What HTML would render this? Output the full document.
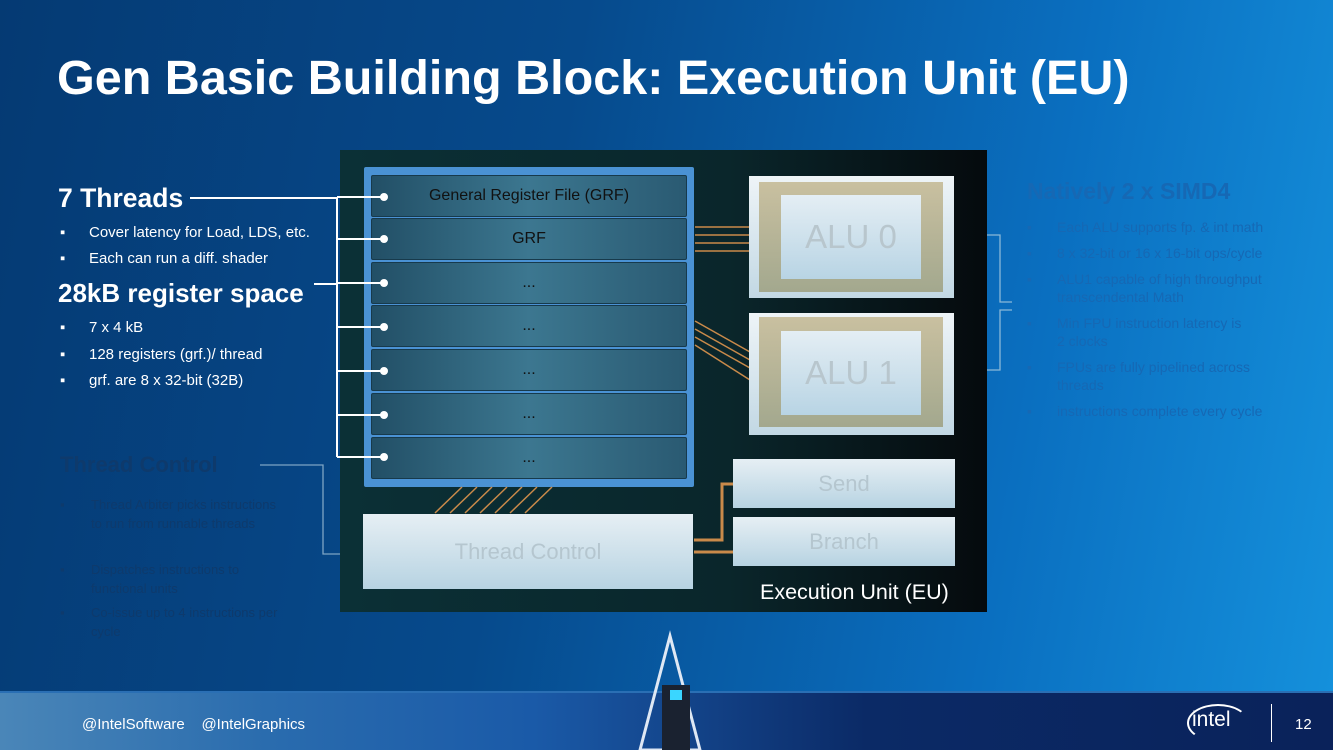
<!DOCTYPE html>
<html><head><meta charset="utf-8"><style>
*{margin:0;padding:0;box-sizing:border-box}
body{width:1333px;height:750px;overflow:hidden;position:relative;font-family:"Liberation Sans","DejaVu Sans",sans-serif;background:linear-gradient(100deg,#053a73 0%,#064a8c 40%,#0a6fc0 75%,#1591dc 100%)}
.a{position:absolute}
h1{position:absolute;left:57px;top:50px;font-size:48.5px;font-weight:bold;color:#fff;white-space:nowrap}
.w{color:#fff}
.bul{font-size:15px;color:#fff}
.fade{color:#0e3a6c}
.fadeR{color:#1668b4}
.row{position:absolute;left:371px;width:316px;height:42px;background:linear-gradient(90deg,#224f66,#3c7790 50%,#2a5a72);border:1px solid #173a4c;border-radius:2px;color:#111;text-align:center;font-size:16px;line-height:40px}
.box{position:absolute;background:linear-gradient(180deg,#e6eff4,#b7d3e2);color:#b5c6cf;text-align:center}
</style></head><body>
<h1>Gen Basic Building Block: Execution Unit (EU)</h1>

<div class="a w" style="left:58px;top:183px;font-size:26.5px;font-weight:bold">7 Threads</div>
<div class="a bul" style="left:60px;top:224px">▪<span style="position:absolute;left:29px;white-space:nowrap">Cover latency for Load, LDS, etc.</span></div>
<div class="a bul" style="left:60px;top:250px">▪<span style="position:absolute;left:29px;white-space:nowrap">Each can run a diff. shader</span></div>
<div class="a w" style="left:58px;top:278px;font-size:26px;font-weight:bold;white-space:nowrap">28kB register space</div>
<div class="a bul" style="left:60px;top:319px">▪<span style="position:absolute;left:29px;white-space:nowrap">7 x 4 kB</span></div>
<div class="a bul" style="left:60px;top:346px">▪<span style="position:absolute;left:29px;white-space:nowrap">128 registers (grf.)/ thread</span></div>
<div class="a bul" style="left:60px;top:372px">▪<span style="position:absolute;left:29px;white-space:nowrap">grf. are 8 x 32-bit (32B)</span></div>

<div class="a fade" style="left:60px;top:452px;font-size:22px;font-weight:bold">Thread Control</div>
<div class="a fade" style="left:60px;top:495px;font-size:13px;line-height:19px;width:220px">▪<span style="position:absolute;left:31px;width:190px">Thread Arbiter picks instructions to run from runnable threads</span></div>
<div class="a fade" style="left:60px;top:560px;font-size:13px;line-height:19px">▪<span style="position:absolute;left:31px;width:190px">Dispatches instructions to functional units</span></div>
<div class="a fade" style="left:60px;top:603px;font-size:13px;line-height:19px">▪<span style="position:absolute;left:31px;width:200px">Co-issue up to 4 instructions per cycle</span></div>

<div class="a fadeR" style="left:1027px;top:178px;font-size:23px;font-weight:bold;white-space:nowrap">Natively 2 x SIMD4</div>
<div class="a fadeR" style="left:1027px;top:218px;font-size:14px;line-height:18px;width:300px">
<div style="position:relative;margin-bottom:8px;padding-left:30px">Each ALU supports fp. &amp; int math<span style="position:absolute;left:0;top:0">▪</span></div>
<div style="position:relative;margin-bottom:8px;padding-left:30px">8 x 32-bit or 16 x 16-bit ops/cycle<span style="position:absolute;left:0;top:0">▪</span></div>
<div style="position:relative;margin-bottom:8px;padding-left:30px">ALU1 capable of high throughput<br>transcendental Math<span style="position:absolute;left:0;top:0">▪</span></div>
<div style="position:relative;margin-bottom:8px;padding-left:30px">Min FPU instruction latency is<br>2 clocks<span style="position:absolute;left:0;top:0">▪</span></div>
<div style="position:relative;margin-bottom:8px;padding-left:30px">FPUs are fully pipelined across<br>threads<span style="position:absolute;left:0;top:0">▪</span></div>
<div style="position:relative;padding-left:30px">instructions complete every cycle<span style="position:absolute;left:0;top:0">▪</span></div>
</div>

<svg class="a" style="left:0;top:0" width="1333" height="750">
<polyline points="260,465 323,465 323,554 390,554" fill="none" stroke="#7ea5c4" stroke-width="1.3"/>
<polyline points="940,235 1000,235 1000,302 1012,302" fill="none" stroke="#8ab8d8" stroke-width="1.3"/>
<polyline points="940,370 1000,370 1000,310 1012,310" fill="none" stroke="#8ab8d8" stroke-width="1.3"/>
</svg>

<div class="a" style="left:340px;top:150px;width:647px;height:462px;background:linear-gradient(90deg,#0b3036,#0a262b 60%,#050a0d)"></div>
<div class="a" style="left:364px;top:167px;width:330px;height:320px;background:#4a92d4;border-radius:2px"></div>
<div class="row" style="top:175px">General Register File (GRF)</div>
<div class="row" style="top:218px">GRF</div>
<div class="row" style="top:262px">...</div>
<div class="row" style="top:305px">...</div>
<div class="row" style="top:349px">...</div>
<div class="row" style="top:393px">...</div>
<div class="row" style="top:437px">...</div>

<svg class="a" style="left:0;top:0" width="1333" height="750">
<g stroke="#c98a4a" stroke-width="1.5" fill="none">
<line x1="695" y1="227" x2="750" y2="227"/><line x1="695" y1="235" x2="750" y2="235"/><line x1="695" y1="243" x2="750" y2="243"/><line x1="695" y1="251" x2="750" y2="251"/>
<line x1="695" y1="321" x2="750" y2="352"/><line x1="695" y1="329" x2="750" y2="360"/><line x1="695" y1="337" x2="750" y2="368"/><line x1="695" y1="345" x2="750" y2="380"/>
<line x1="435" y1="513" x2="462" y2="487"/><line x1="450" y1="513" x2="477" y2="487"/><line x1="465" y1="513" x2="492" y2="487"/><line x1="480" y1="513" x2="507" y2="487"/><line x1="495" y1="513" x2="522" y2="487"/><line x1="510" y1="513" x2="537" y2="487"/><line x1="525" y1="513" x2="552" y2="487"/>
<polyline points="694,540 722,540 722,484 734,484" stroke-width="3"/>
<line x1="694" y1="552" x2="734" y2="552" stroke-width="3"/>
</g>
<g stroke="#fff" stroke-width="2" fill="none">
<line x1="190" y1="198" x2="337" y2="198"/>
<line x1="314" y1="284" x2="337" y2="284"/>
<line x1="337" y1="197" x2="337" y2="457"/>
<line x1="337" y1="197" x2="383" y2="197"/><line x1="337" y1="239" x2="383" y2="239"/><line x1="337" y1="283" x2="383" y2="283"/><line x1="337" y1="327" x2="383" y2="327"/><line x1="337" y1="371" x2="383" y2="371"/><line x1="337" y1="415" x2="383" y2="415"/><line x1="337" y1="457" x2="383" y2="457"/>
</g>
<g fill="#fff"><circle cx="384" cy="197" r="4"/><circle cx="384" cy="239" r="4"/><circle cx="384" cy="283" r="4"/><circle cx="384" cy="327" r="4"/><circle cx="384" cy="371" r="4"/><circle cx="384" cy="415" r="4"/><circle cx="384" cy="457" r="4"/></g>
</svg>

<div class="a" style="left:749px;top:176px;width:205px;height:122px;background:linear-gradient(180deg,#eef4f7,#c2d8e4)"></div>
<div class="a" style="left:759px;top:182px;width:184px;height:110px;background:linear-gradient(180deg,#c9c0a0,#a3a88e)"></div>
<div class="a" style="left:781px;top:195px;width:140px;height:84px;background:linear-gradient(180deg,#e4eef4,#b8d4e4);color:#b8c6cd;font-size:33px;text-align:center;line-height:84px">ALU 0</div>
<div class="a" style="left:749px;top:313px;width:205px;height:122px;background:linear-gradient(180deg,#eef4f7,#c2d8e4)"></div>
<div class="a" style="left:759px;top:317px;width:184px;height:110px;background:linear-gradient(180deg,#c9c0a0,#a3a88e)"></div>
<div class="a" style="left:781px;top:331px;width:140px;height:84px;background:linear-gradient(180deg,#e4eef4,#b8d4e4);color:#b8c6cd;font-size:33px;text-align:center;line-height:84px">ALU 1</div>

<div class="box" style="left:733px;top:459px;width:222px;height:49px;font-size:22px;line-height:49px">Send</div>
<div class="box" style="left:733px;top:517px;width:222px;height:49px;font-size:22px;line-height:49px">Branch</div>
<div class="box" style="left:363px;top:514px;width:330px;height:75px;font-size:22px;line-height:75px">Thread Control</div>
<div class="a w" style="left:760px;top:580px;font-size:21.5px">Execution Unit (EU)</div>

<div class="a" style="left:0;top:691px;width:1333px;height:59px;background:linear-gradient(90deg,#4a86b8,#2a6cae 20%,#1a5aa8 40%,#0b2a66 65%,#0a225a 100%)"></div>
<div class="a" style="left:0;top:691px;width:1333px;height:2px;background:#2a6fb4"></div>
<svg class="a" style="left:600px;top:630px" width="140" height="120">
<polygon points="70,6 40,120 100,120" fill="none" stroke="#dfe8f4" stroke-width="3"/>
<rect x="62" y="55" width="28" height="65" fill="#1a2230"/>
<rect x="70" y="60" width="12" height="10" fill="#3ad6ff"/>
</svg>
<div class="a" style="left:82px;top:716px;font-size:15px;color:#fff;white-space:nowrap">@IntelSoftware &nbsp;&nbsp;&nbsp;@IntelGraphics</div>
<div class="a" style="left:1187px;top:704px;width:62px;height:38px;border:2px solid #fff;border-radius:50%;border-right-color:transparent;border-bottom-color:transparent"></div>
<div class="a" style="left:1192px;top:708px;font-size:21px;color:#fff">intel</div>
<div class="a" style="left:1271px;top:704px;width:1px;height:38px;background:#fff"></div>
<div class="a" style="left:1295px;top:716px;font-size:15px;color:#fff">12</div>
</body></html>
